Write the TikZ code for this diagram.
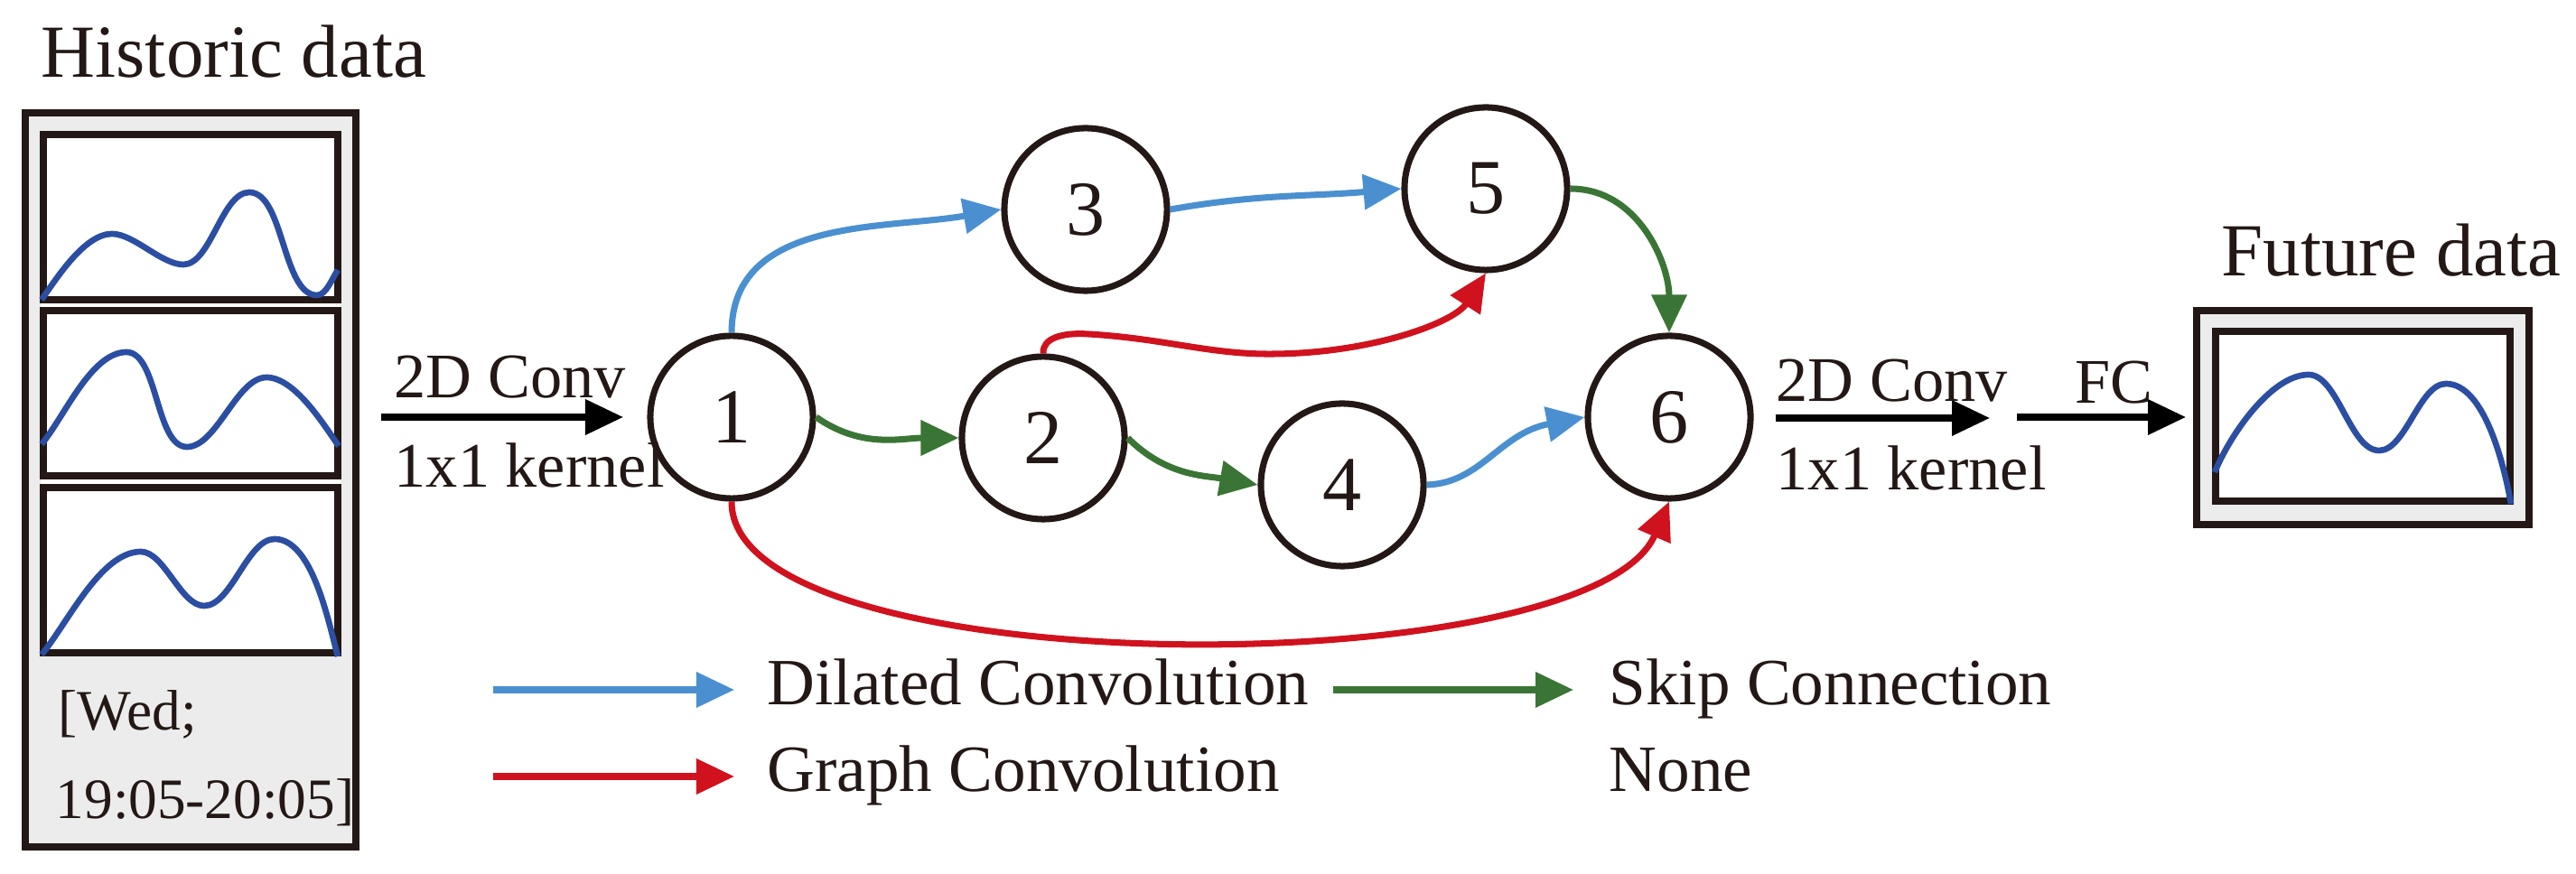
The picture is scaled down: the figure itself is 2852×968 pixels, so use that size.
\documentclass[tikz,border=0pt]{standalone}
\usepackage{fontspec}
\setmainfont{Liberation Serif}
\usetikzlibrary{arrows.meta}
\definecolor{ink}{HTML}{231815}
\definecolor{dblue}{HTML}{4A90D0}
\definecolor{dred}{HTML}{D0121E}
\definecolor{dgreen}{HTML}{3A7535}
\definecolor{wave}{HTML}{2B4EA2}
\definecolor{panelgrey}{HTML}{ECECEC}
\begin{document}
\begin{tikzpicture}[x=0.01cm,y=0.01cm,
  cell/.style={circle,draw=ink,line width=2pt,minimum size=1.8cm,inner sep=0pt,
    font=\fontsize{24.5}{28}\selectfont,text=ink},
  lbl/.style={anchor=base west,inner sep=0pt,text=ink},
  titlefont/.style={font=\fontsize{23.6}{28}\selectfont},
  convfont/.style={font=\fontsize{20}{24}\selectfont},
  legfont/.style={font=\fontsize{20.8}{24}\selectfont},
  smallfont/.style={font=\fontsize{18}{22}\selectfont},
  link/.style={line width=2pt,-{Triangle[length=0.42cm,width=0.38cm]}},
  frame/.style={draw=ink,line width=2.1pt},
  wavy/.style={draw=wave,line width=1.9pt,looseness=0.72},
]
\useasboundingbox (0,0) rectangle (2852,-968);

% ---------- Historic data ----------
\node[lbl,titlefont] (histtitle) at (45,-86) {Historic data};
\draw[frame,fill=panelgrey] (28,-125) rectangle (394,-938);
\fill[white] (45,-146) rectangle (377,-726);
\draw[frame,fill=white] (48,-149) rectangle (374,-332);
\draw[frame,fill=white] (48,-344) rectangle (374,-527);
\draw[frame,fill=white] (48,-540) rectangle (374,-723);
\draw[wavy] (46,-332) to[out=55,in=180] (124,-259) to[out=0,in=180] (203,-293)
  to[out=0,in=180] (276,-213) to[out=0,in=180] (351,-327) to[out=0,in=235] (374,-299);
\draw[wavy] (46,-492) to[out=50,in=180] (140,-390) to[out=0,in=180] (207,-495)
  to[out=0,in=180] (295,-418) to[out=0,in=125] (375,-494);
\draw[wavy] (46,-725) to[out=50,in=180] (156,-611) to[out=0,in=180] (226,-671)
  to[out=0,in=180] (304,-597) to[out=0,in=105] (374,-727);
\node[lbl,smallfont] (day) at (64,-809) {[Wed;};
\node[lbl,smallfont] (time) at (61,-907) {19:05-20:05]};

% ---------- input arrow ----------
\coordinate (inA) at (422,-462);
\coordinate (inB) at (690,-462);
\draw[link,draw=black,fill=black] (inA) -- (inB);
\node[lbl,convfont] (inconv) at (436,-441) {2D Conv};
\node[lbl,convfont] (inkern) at (436,-540) {1x1 kernel};

% ---------- cells ----------
\node[cell] (n1) at (810,-462) {1};
\node[cell] (n2) at (1155,-485) {2};
\node[cell] (n3) at (1202,-232) {3};
\node[cell] (n4) at (1486,-537) {4};
\node[cell] (n5) at (1645,-209) {5};
\node[cell] (n6) at (1848,-462) {6};

% ---------- connections ----------
\draw[link,dblue] (n1.north) to[out=90,in=190] (n3.west);
\draw[link,dblue] (n3.east) to[out=10,in=185] (n5.west);
\draw[link,dgreen] (n5.east) to[out=0,in=90] (n6.north);
\draw[link,dgreen] (n1.east) to[out=-35,in=180] (n2.west);
\draw[link,dgreen] (n2.east) to[out=-45,in=170] (n4.west);
\draw[link,dblue] (n4.east) .. controls (1640,-535) and (1660,-480) .. (n6.west);
\draw[link,dred] (n2.north) .. controls (1154,-375) and (1175,-368) .. (1205,-370)
  .. controls (1290,-375) and (1340,-393) .. (1411,-392)
  .. controls (1520,-391) and (1610,-357) .. (n5.south);
\draw[link,dred] (n1.south) .. controls (809,-760) and (1760,-760) .. (n6.south);

% ---------- output arrows ----------
\coordinate (outA) at (1966,-463);
\coordinate (outB) at (2203,-463);
\draw[link,draw=black,fill=black] (outA) -- (outB);
\node[lbl,convfont] (outconv) at (1966,-445) {2D Conv};
\node[lbl,convfont] (outkern) at (1966,-543) {1x1 kernel};
\coordinate (fcA) at (2233,-462);
\coordinate (fcB) at (2420,-462);
\draw[link,draw=black,fill=black] (fcA) -- (fcB);
\node[lbl,convfont] (fc) at (2297,-447) {FC};

% ---------- Future data ----------
\node[lbl,titlefont] (futtitle) at (2459,-306) {Future data};
\draw[frame,fill=panelgrey] (2432,-344) rectangle (2800,-581);
\draw[frame,fill=white] (2453,-367) rectangle (2779,-555);
\draw[wavy] (2452,-523) to[out=68,in=180] (2556,-415) to[out=0,in=180] (2634,-499)
  to[out=0,in=180] (2708,-425) to[out=0,in=100] (2780,-558);

% ---------- legend ----------
\coordinate (lbA) at (546,-764);
\coordinate (lbB) at (813,-764);
\draw[link,dblue] (lbA) -- (lbB);
\node[lbl,legfont] (lb) at (849,-781) {Dilated Convolution};
\coordinate (lgA) at (1476,-764);
\coordinate (lgB) at (1742,-764);
\draw[link,dgreen] (lgA) -- (lgB);
\node[lbl,legfont] (lg) at (1781,-781) {Skip Connection};
\coordinate (lrA) at (546,-860);
\coordinate (lrB) at (813,-860);
\draw[link,dred] (lrA) -- (lrB);
\node[lbl,legfont] (lr) at (849,-877) {Graph Convolution};
\node[lbl,legfont] (ln) at (1781,-877) {None};
\end{tikzpicture}
\end{document}
